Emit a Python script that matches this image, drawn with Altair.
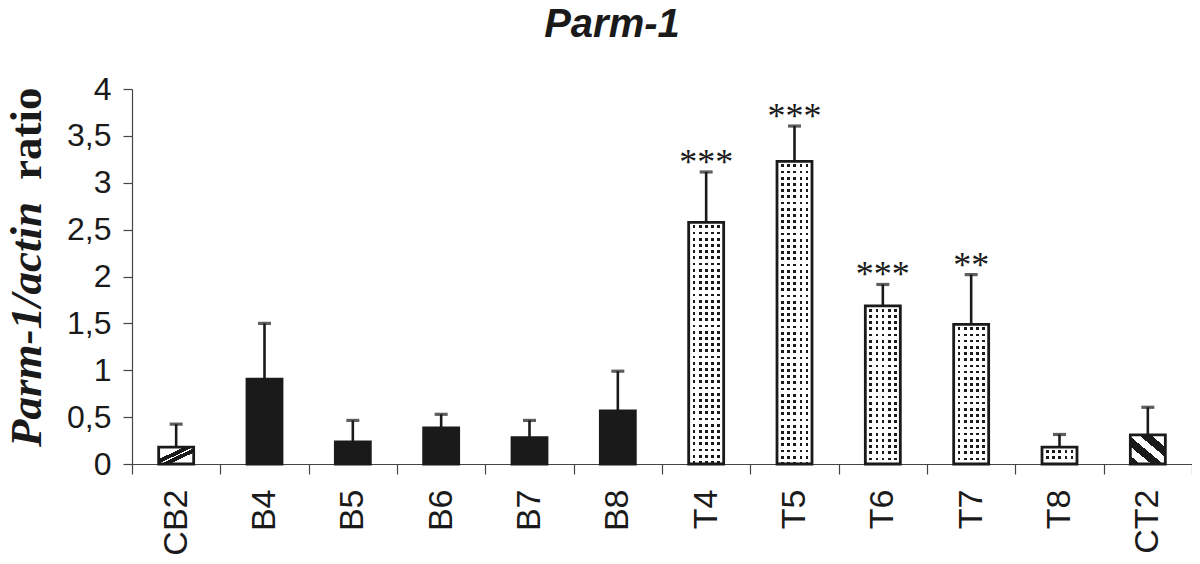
import altair as alt
import pandas as pd

# ---- data ----
categories = ["CB2", "B4", "B5", "B6", "B7", "B8", "T4", "T5", "T6", "T7", "T8", "CT2"]
means = [0.18, 0.905, 0.237, 0.385, 0.282, 0.567, 2.577, 3.227, 1.687, 1.49, 0.18, 0.31]
upper = [0.425, 1.50, 0.465, 0.53, 0.465, 0.99, 3.115, 3.605, 1.915, 2.02, 0.315, 0.605]
significance = ["", "", "", "", "", "", "***", "***", "***", "**", "", ""]
groups = ["control", "B", "B", "B", "B", "B", "T", "T", "T", "T", "T", "control"]
y_ticks = [0, 0.5, 1, 1.5, 2, 2.5, 3, 3.5, 4]
title_text = "Parm-1"
y_title_italic = "Parm-1/actin"
y_title_plain = "ratio"

df = pd.DataFrame({"cat": categories, "mean": means, "upper": upper,
                   "sig": significance, "group": groups})

INK = "#1a1a1a"
W, H = 1060, 375
PX_PER_UNIT = H / 4.0
BAR = 35

x_enc = alt.X("cat:N", sort=categories,
              scale=alt.Scale(domain=categories, paddingInner=0, paddingOuter=0),
              axis=alt.Axis(title=None, labelAngle=270, labelAlign="right",
                            labelBaseline="middle", labelFontSize=34,
                            labelFont="Liberation Sans", labelColor=INK,
                            labelPadding=15, tickBand="extent", tickSize=10,
                            tickColor="#444", tickWidth=1.2, domainColor="#444",
                            domainWidth=1.2, grid=False))
y_scale = alt.Scale(domain=[0, 4], nice=False)
y_enc = alt.Y("mean:Q", scale=y_scale,
              axis=alt.Axis(title=None, values=y_ticks, grid=False,
                            labelExpr="replace(toString(datum.value), '.', ',')",
                            labelFontSize=32, labelFont="Liberation Sans",
                            labelColor=INK, labelPadding=12, tickSize=9,
                            tickColor="#444", tickWidth=1.2, domainColor="#444",
                            domainWidth=1.2))

base = alt.Chart(df)


def stops_for(length_px, period, dot, on, off, phase):
    s = [alt.GradientStop(color=off, offset=0)]
    p = phase
    while p < length_px:
        a = max(0.0, p / length_px)
        b = min(1.0, (p + dot) / length_px)
        s += [alt.GradientStop(color=off, offset=a), alt.GradientStop(color=on, offset=a),
              alt.GradientStop(color=on, offset=b), alt.GradientStop(color=off, offset=b)]
        p += period
    s.append(alt.GradientStop(color=off, offset=1))
    return s


def diag(stripes, x1, y1, x2, y2):
    s = []
    for a, b in stripes:
        s += [alt.GradientStop(color="white", offset=a), alt.GradientStop(color=INK, offset=a),
              alt.GradientStop(color=INK, offset=b), alt.GradientStop(color="white", offset=b)]
    return alt.LinearGradient(gradient="linear", stops=[alt.GradientStop(color="white", offset=0)] + s +
                              [alt.GradientStop(color="white", offset=1)],
                              x1=x1, y1=y1, x2=x2, y2=y2)


# error bars (upper half only)
err = base.mark_rule(color=INK, strokeWidth=2.6).encode(x=x_enc, y=y_enc, y2="upper:Q")
caps = base.mark_tick(color=INK, size=13, thickness=3.2).encode(
    x=x_enc, y=alt.Y("upper:Q", scale=y_scale))

layers = [err, caps]

# solid black bars
layers.append(base.mark_bar(size=BAR, fill=INK).encode(x=x_enc, y=y_enc)
              .transform_filter(alt.datum.group == "B"))

# hatched controls
cb2_fill = diag([(0.36, 0.49), (0.53, 0.66)], 0, 0, 1, 1)
ct2_fill = diag([(0.0, 0.14), (0.3, 0.47), (0.62, 0.79)], 0, 1, 1, 0)
layers.append(base.mark_bar(size=BAR, fill=cb2_fill).encode(x=x_enc, y=y_enc)
              .transform_filter(alt.datum.cat == "CB2"))
layers.append(base.mark_bar(size=BAR, fill=ct2_fill).encode(x=x_enc, y=y_enc)
              .transform_filter(alt.datum.cat == "CT2"))

# dotted T bars: rows of dark stripes, masked by white columns
for c, m, g in zip(categories, means, groups):
    if g != "T":
        continue
    h = m * PX_PER_UNIT
    rows = alt.LinearGradient(gradient="linear",
                              stops=stops_for(h, 6.2, 2.7, INK, "white", 3.0),
                              x1=0, y1=0, x2=0, y2=1)
    layers.append(base.mark_bar(size=BAR, fill=rows).encode(x=x_enc, y=y_enc)
                  .transform_filter(alt.datum.cat == c))
cols = alt.LinearGradient(gradient="linear",
                          stops=stops_for(BAR, 6.2, 2.7, "rgba(255,255,255,0)", "white", 4.0),
                          x1=0, y1=0, x2=1, y2=0)
layers.append(base.mark_bar(size=BAR, fill=cols).encode(x=x_enc, y=y_enc)
              .transform_filter(alt.datum.group == "T"))

# outlines
layers.append(base.mark_bar(size=BAR, fillOpacity=0, stroke=INK, strokeWidth=2.8)
              .encode(x=x_enc, y=y_enc))

# significance stars
layers.append(base.mark_text(font="Liberation Serif", fontSize=36, color=INK,
                             baseline="alphabetic", dy=2)
              .encode(x=x_enc, y=alt.Y("upper:Q", scale=y_scale), text="sig:N"))

# y axis title in two styles
t1 = alt.Chart(pd.DataFrame({"t": [y_title_italic]})).mark_text(
    font="Liberation Serif", fontSize=45, fontWeight="bold", fontStyle="italic",
    angle=270, align="right", baseline="alphabetic", color=INK).encode(
    text="t:N", x=alt.value(-91), y=alt.value(113))
t2 = alt.Chart(pd.DataFrame({"t": [y_title_plain]})).mark_text(
    font="Liberation Serif", fontSize=45, fontWeight="bold",
    angle=270, align="left", baseline="alphabetic", color=INK).encode(
    text="t:N", x=alt.value(-91), y=alt.value(91))
# chart title
t3 = alt.Chart(pd.DataFrame({"t": [title_text]})).mark_text(
    font="Liberation Sans", fontSize=40, fontWeight="bold", fontStyle="italic",
    align="center", baseline="alphabetic", color=INK).encode(
    text="t:N", x=alt.value(480), y=alt.value(-52))
layers += [t1, t2, t3]

chart = alt.layer(*layers).properties(
    width=W, height=H,
    autosize=alt.AutoSizeParams(type="none"),
    padding={"left": 124, "top": 81, "right": 0, "bottom": 92},
    background="white",
).configure_view(stroke=None)

chart.save("out.html", embed_options={"renderer": "svg", "actions": False})
